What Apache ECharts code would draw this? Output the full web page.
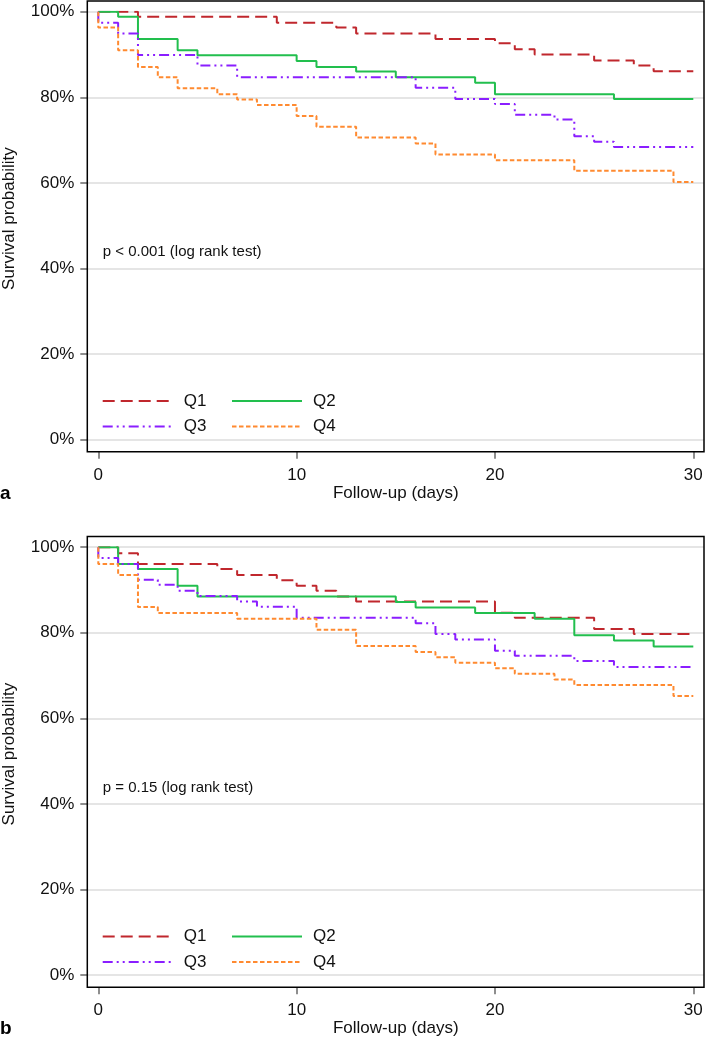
<!DOCTYPE html>
<html>
<head>
<meta charset="utf-8">
<script src="https://cdn.jsdelivr.net/npm/echarts@6/dist/echarts.min.js"></script>
<style>
html,body{margin:0;padding:0;background:#fff;}
#chart{width:705px;height:1044px;}
</style>
</head>
<body>
<div id="chart"></div>
<script>
// ---------------- DATA ----------------
const groupNames = ['Q1', 'Q2', 'Q3', 'Q4'];
const xTickLabels = [0, 10, 20, 30];
const yTickLabels = [0, 20, 40, 60, 80, 100];
const xAxisTitle = 'Follow-up (days)';
const yAxisTitle = 'Survival probability';
const panelLabels = ['a', 'b'];
const pTexts = ['p < 0.001 (log rank test)', 'p = 0.15 (log rank test)'];

// Panel a
const daysA_Q1 = [0, 2, 9, 12, 13, 17, 20, 21, 22, 25, 27, 28, 30];
const survA_Q1 = [100, 98.8, 97.4, 96.3, 94.9, 93.6, 92.6, 91.2, 90.0, 88.6, 87.4, 86.1, 86.1];
const daysA_Q2 = [0, 1, 2, 4, 5, 10, 11, 13, 15, 19, 20, 26, 30];
const survA_Q2 = [100, 98.8, 93.6, 91.0, 89.8, 88.5, 87.1, 86.0, 84.7, 83.4, 80.7, 79.6, 79.6];
const daysA_Q3 = [0, 0, 1, 2, 5, 7, 16, 18, 20, 21, 23, 24, 25, 26, 30];
const survA_Q3 = [100, 97.4, 94.9, 89.9, 87.4, 84.7, 82.2, 79.6, 78.4, 75.9, 74.8, 70.9, 69.6, 68.4, 68.4];
const daysA_Q4 = [0, 0, 1, 2, 3, 4, 6, 7, 8, 10, 11, 13, 16, 17, 20, 24, 29, 30];
const survA_Q4 = [100, 96.3, 91.0, 87.1, 84.7, 82.1, 80.7, 79.5, 78.2, 75.6, 73.1, 70.6, 69.2, 66.6, 65.3, 62.8, 60.2, 60.2];

// Panel b
const daysB_Q1 = [0, 1, 2, 6, 7, 9, 10, 11, 12, 13, 20, 21, 25, 27, 30];
const survB_Q1 = [100, 98.6, 96.1, 94.9, 93.5, 92.3, 91.0, 89.8, 88.5, 87.3, 84.7, 83.5, 80.9, 79.7, 79.7];
const daysB_Q2 = [0, 1, 2, 4, 5, 15, 16, 19, 22, 24, 26, 28, 30];
const survB_Q2 = [100, 96.1, 94.9, 91.0, 88.5, 87.2, 85.9, 84.6, 83.3, 79.4, 78.2, 76.8, 76.8];
const daysB_Q3 = [0, 0, 1, 2, 3, 4, 5, 7, 8, 10, 16, 17, 18, 20, 21, 24, 26, 30];
const survB_Q3 = [100, 97.5, 96.1, 92.4, 91.2, 89.8, 88.6, 87.3, 86.1, 83.5, 82.2, 79.7, 78.4, 75.8, 74.6, 73.4, 72.0, 72.0];
const daysB_Q4 = [0, 0, 1, 2, 3, 7, 11, 13, 16, 17, 18, 20, 21, 23, 24, 29, 30];
const survB_Q4 = [100, 96.1, 93.5, 86.0, 84.6, 83.3, 80.7, 76.9, 75.5, 74.3, 73.0, 71.7, 70.4, 69.1, 67.8, 65.2, 65.2];

// ---------------- STYLE ----------------
const FONT = "'Liberation Sans', Arial, Helvetica, sans-serif";
const seriesStyles = [
  { color: '#C0272D', type: [12, 6] },
  { color: '#22BF4E', type: 'solid' },
  { color: '#8A1EFF', type: [10, 4, 2, 4, 2, 4] },
  { color: '#FF8A30', type: [4.5, 2.5] }
];
const panelDays = [[daysA_Q1, daysA_Q2, daysA_Q3, daysA_Q4], [daysB_Q1, daysB_Q2, daysB_Q3, daysB_Q4]];
const panelSurv = [[survA_Q1, survA_Q2, survA_Q3, survA_Q4], [survB_Q1, survB_Q2, survB_Q3, survB_Q4]];

const offsets = [0, 535.5];
const frameLeft = 87.3, frameRight = 704, frameTop = 1, frameBottom = 451.7;
const plotTop = 11.7, plotBottom = 439.5, x0px = 98.3, x30px = 693.3;

const grid = [], xAxis = [], yAxis = [], series = [], legend = [], title = [];

offsets.forEach((off, p) => {
  const gi = grid.length;
  // frame grid
  grid.push({ left: frameLeft, top: frameTop + off, width: frameRight - frameLeft, height: frameBottom - frameTop,
    show: true, borderColor: '#000', borderWidth: 1.5, backgroundColor: 'transparent', outerBoundsMode: 'none', z: 5 });
  xAxis.push({ gridIndex: gi, type: 'value', show: false, min: 0, max: 1 });
  yAxis.push({ gridIndex: gi, type: 'value', show: false, min: 0, max: 1 });
  // y-axis grid (full width, for gridlines)
  grid.push({ left: frameLeft, top: plotTop + off, width: frameRight - frameLeft, height: plotBottom - plotTop, outerBoundsMode: 'none' });
  xAxis.push({ gridIndex: gi + 1, type: 'value', show: false, min: 0, max: 1 });
  yAxis.push({ gridIndex: gi + 1, type: 'value', min: yTickLabels[0], max: yTickLabels[yTickLabels.length - 1], interval: 20,
    axisLine: { show: false, onZero: false },
    axisTick: { show: true, length: 7, lineStyle: { color: '#6a6a6a', width: 1.5 } },
    axisLabel: { formatter: '{value}%', fontSize: 17, color: '#111', margin: 13, fontFamily: FONT },
    splitLine: { show: true, lineStyle: { color: '#DCDCDC', width: 1.6 } },
    name: yAxisTitle, nameLocation: 'middle', nameGap: 69,
    nameTextStyle: { fontSize: 17, color: '#111', fontFamily: FONT, padding: [0, 0, 0, 14] }
  });
  // data grid
  grid.push({ left: x0px, top: plotTop + off, width: x30px - x0px, height: plotBottom - plotTop, outerBoundsMode: 'none' });
  xAxis.push({ gridIndex: gi + 2, type: 'value', min: xTickLabels[0], max: xTickLabels[xTickLabels.length - 1], interval: 10,
    offset: frameBottom - plotBottom,
    axisLine: { show: false, onZero: false },
    axisTick: { show: true, length: 7, lineStyle: { color: '#6a6a6a', width: 1.5 } },
    axisLabel: { fontSize: 17, color: '#111', margin: 15, fontFamily: FONT },
    splitLine: { show: false },
    name: xAxisTitle, nameLocation: 'middle', nameGap: 33,
    nameTextStyle: { fontSize: 17, color: '#111', fontFamily: FONT }
  });
  yAxis.push({ gridIndex: gi + 2, type: 'value', show: false, min: 0, max: 100 });

  groupNames.forEach((name, k) => {
    const st = seriesStyles[k];
    series.push({
      name: name, type: 'line', step: 'end', symbol: 'none', showSymbol: false,
      xAxisIndex: gi + 2, yAxisIndex: gi + 2,
      data: panelDays[p][k].map((d, i) => [d, panelSurv[p][k][i]]),
      color: st.color,
      lineStyle: { color: st.color, width: 2, type: st.type },
      animation: false, silent: true, z: 3
    });
    const col = k % 2, row = Math.floor(k / 2);
    legend.push({
      data: [name], selectedMode: false, orient: 'horizontal',
      left: col === 0 ? 101.7 : 231, top: 392.5 + row * 25.5 + off,
      itemWidth: 70, itemHeight: 20, padding: 0,
      itemStyle: { opacity: 0 },
      textStyle: { fontSize: 17, color: '#111', fontFamily: FONT, padding: [0, 0, 0, 6] }
    });
  });

  title.push({ text: panelLabels[p], left: 0, top: 484 + off, padding: 0,
    textStyle: { fontSize: 19, fontWeight: 'bold', color: '#000', fontFamily: FONT } });
  title.push({ text: pTexts[p], left: 102.7, top: 244.5 + off, padding: 0,
    textStyle: { fontSize: 15, fontWeight: 'normal', color: '#111', fontFamily: FONT } });
});

const chart = echarts.init(document.getElementById('chart'), null, { renderer: 'canvas' });
chart.setOption({
  backgroundColor: '#fff',
  animation: false,
  textStyle: { fontFamily: FONT },
  grid, xAxis, yAxis, series, legend, title
});
</script>
</body>
</html>
